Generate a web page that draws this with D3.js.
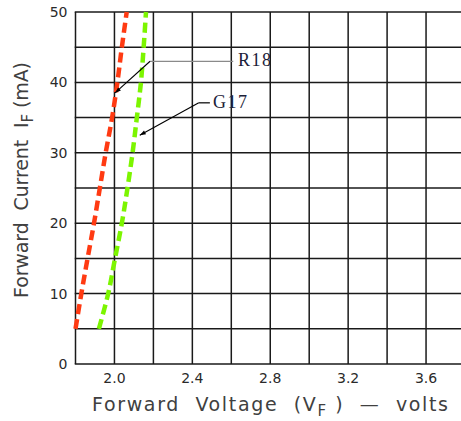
<!DOCTYPE html>
<html><head><meta charset="utf-8">
<script src="https://cdn.jsdelivr.net/npm/d3@7"></script>
<style>html,body{margin:0;padding:0;background:#fff;}svg{display:block;}text{white-space:pre;}</style>
</head><body>
<script>
// ---- data ----
const current = [5, 10, 15, 20, 25, 30, 35, 40, 45, 50];               // mA
const r18Voltage = [1.80, 1.83, 1.862, 1.895, 1.925, 1.955, 1.988, 2.015, 2.038, 2.063];
const g17Voltage = [1.92, 1.968, 2.003, 2.038, 2.067, 2.093, 2.115, 2.136, 2.15, 2.162];
const xTicks = [2.0, 2.4, 2.8, 3.2, 3.6];
const yTicks = [0, 10, 20, 30, 40, 50];
const xGrid = d3.range(1.8, 3.81, 0.2);
const yGrid = d3.range(0, 50.1, 5);
const seriesNames = ["R18", "G17"];
const seriesColors = ["#ff3a12", "#7cf500"];
// annotation anchors (data units): tip, elbow, line end, label
const annR18 = {tip: [2.003, 38.5], elbow: [2.183, 43.0], end: [2.61, 43.0], label: [2.635, 42.3]};
const annG17 = {tip: [2.13, 32.5], elbow: [2.433, 37.1], end: [2.49, 37.1], label: [2.506, 36.3]};

const W = 461, H = 421;
const svg = d3.select("body").append("svg").attr("width", W).attr("height", H);
svg.append("rect").attr("width", W).attr("height", H).attr("fill", "#fff");

const x = d3.scaleLinear().domain([1.8, 3.8]).range([75.5, 465]);
const y = d3.scaleLinear().domain([0, 50]).range([364, 12]);

// grid
const g = svg.append("g");
g.selectAll("line.v").data(xGrid).join("line")
  .attr("x1", d => x(d)).attr("x2", d => x(d)).attr("y1", y(0)).attr("y2", y(50))
  .attr("stroke", "#1a1a1a").attr("stroke-width", 1.5);
g.selectAll("line.h").data(yGrid).join("line")
  .attr("x1", x(1.8) - 0.75).attr("x2", W + 5).attr("y1", d => y(d)).attr("y2", d => y(d))
  .attr("stroke", "#1a1a1a").attr("stroke-width", 1.5);

// tick labels
const tickFont = "'DejaVu Sans', sans-serif";
svg.append("g").selectAll("text").data(yTicks).join("text")
  .attr("x", x(1.8) - 8).attr("y", d => y(d)).attr("dy", "0.36em")
  .attr("text-anchor", "end").attr("font-family", tickFont).attr("font-size", 14)
  .attr("fill", "#2a2a2a").text(d => d);
svg.append("g").selectAll("text").data(xTicks).join("text")
  .attr("x", d => x(d)).attr("y", y(0) + 19)
  .attr("text-anchor", "middle").attr("font-family", tickFont).attr("font-size", 14)
  .attr("fill", "#2a2a2a").text(d => d.toFixed(1));

// curves
const line = d3.line().x(d => x(d[0])).y(d => y(d[1])).curve(d3.curveCatmullRom);
[r18Voltage, g17Voltage].forEach((v, i) => {
  svg.append("path").datum(v.map((vv, j) => [vv, current[j]]))
    .attr("d", line).attr("fill", "none").attr("stroke", seriesColors[i])
    .attr("stroke-width", 4.5).attr("stroke-dasharray", "10,5");
});

// arrow marker
const defs = svg.append("defs");
defs.append("marker").attr("id", "arr").attr("viewBox", "0 0 10 10")
  .attr("refX", 10).attr("refY", 5).attr("markerWidth", 9).attr("markerHeight", 6)
  .attr("markerUnits", "userSpaceOnUse").attr("orient", "auto")
  .append("path").attr("d", "M0,1.5 L10,5 L0,8.5 Z").attr("fill", "#000");

function annotate(a, name, hColor) {
  svg.append("line").attr("x1", x(a.elbow[0])).attr("y1", y(a.elbow[1]))
    .attr("x2", x(a.end[0])).attr("y2", y(a.end[1]))
    .attr("stroke", hColor).attr("stroke-width", 1.3);
  svg.append("line").attr("x1", x(a.elbow[0])).attr("y1", y(a.elbow[1]))
    .attr("x2", x(a.tip[0])).attr("y2", y(a.tip[1]))
    .attr("stroke", "#000").attr("stroke-width", 1.1).attr("marker-end", "url(#arr)");
  svg.append("text").attr("x", x(a.label[0])).attr("y", y(a.label[1]))
    .attr("font-family", "'Liberation Serif', 'Times New Roman', serif")
    .attr("font-size", 18).attr("letter-spacing", 1.5).attr("fill", "#1c2238").text(name);
}
annotate(annR18, seriesNames[0], "#8a8a8a");
annotate(annG17, seriesNames[1], "#111");

// axis titles
const titleFont = "'DejaVu Sans', sans-serif";
const xt = svg.append("text").attr("x", 92).attr("y", 411)
  .attr("font-family", titleFont).attr("font-size", 19).attr("fill", "#404040")
  .attr("textLength", 356).attr("lengthAdjust", "spacing");
xt.append("tspan").text("Forward  Voltage  (V");
xt.append("tspan").attr("font-size", 15).attr("dy", 5).text("F");
xt.append("tspan").attr("dy", -5).text(" )  —  volts");

const yt = svg.append("text").attr("transform", "translate(28,298) rotate(-90)")
  .attr("font-family", titleFont).attr("font-size", 19).attr("fill", "#404040")
  .attr("textLength", 236).attr("lengthAdjust", "spacing");
yt.append("tspan").text("Forward  Current  I");
yt.append("tspan").attr("font-size", 15).attr("dy", 5).text("F");
yt.append("tspan").attr("dy", -5).text(" (mA)");
</script>
</body></html>
